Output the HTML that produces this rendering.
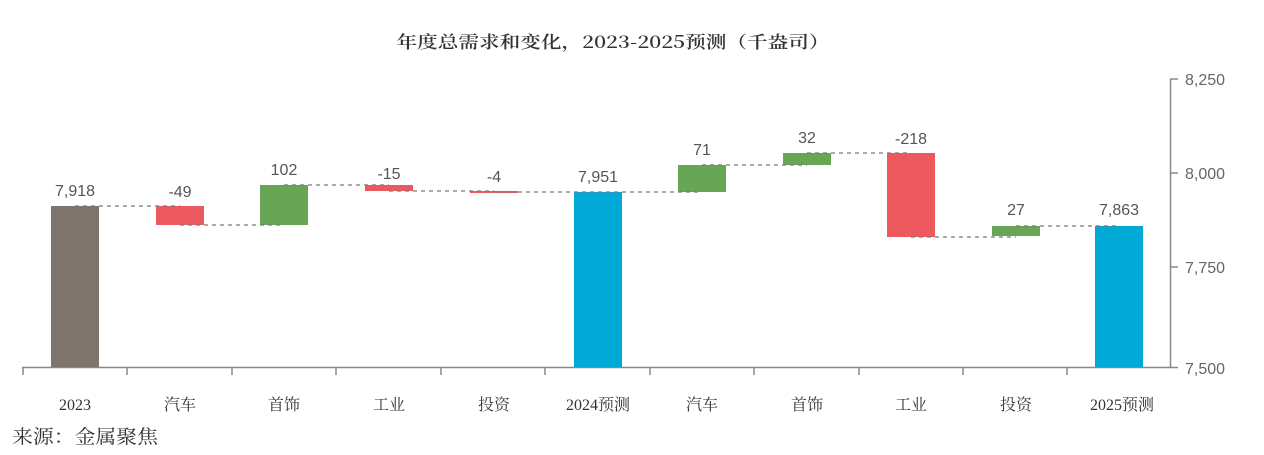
<!DOCTYPE html>
<html><head><meta charset="utf-8"><style>
html,body{margin:0;padding:0;background:#fff;}
svg{display:block;}
</style></head><body>
<svg width="1264" height="455" xmlns="http://www.w3.org/2000/svg">
<text x="613" y="48" text-anchor="middle" font-family="'Noto Serif CJK SC','Liberation Serif',serif" font-weight="600" font-size="17" fill="#333" textLength="433" lengthAdjust="spacingAndGlyphs">年度总需求和变化，2023-2025预测（千盎司）</text>
<g stroke="#888" stroke-width="1.5" fill="none">
<line x1="22" y1="367.5" x2="1171" y2="367.5"/>
<line x1="1170.5" y1="79" x2="1170.5" y2="368"/>
<line x1="1170" y1="79" x2="1178" y2="79"/>
<line x1="1170" y1="173" x2="1178" y2="173"/>
<line x1="1170" y1="267" x2="1178" y2="267"/>
<line x1="1170" y1="367.5" x2="1178" y2="367.5"/>
<line x1="23" y1="368" x2="23" y2="375"/>
<line x1="127" y1="368" x2="127" y2="375"/>
<line x1="232" y1="368" x2="232" y2="375"/>
<line x1="336" y1="368" x2="336" y2="375"/>
<line x1="441" y1="368" x2="441" y2="375"/>
<line x1="545" y1="368" x2="545" y2="375"/>
<line x1="650" y1="368" x2="650" y2="375"/>
<line x1="754" y1="368" x2="754" y2="375"/>
<line x1="859" y1="368" x2="859" y2="375"/>
<line x1="963" y1="368" x2="963" y2="375"/>
<line x1="1067" y1="368" x2="1067" y2="375"/>
</g>
<g font-family="'Liberation Sans',sans-serif" font-size="16" fill="#666">
<text x="1185" y="85">8,250</text>
<text x="1185" y="179">8,000</text>
<text x="1185" y="273">7,750</text>
<text x="1185" y="374">7,500</text>
</g>
<rect x="51" y="206" width="48" height="161" fill="#7f746d"/>
<rect x="156" y="206" width="48" height="19" fill="#ec5a5f"/>
<rect x="260" y="185" width="48" height="40" fill="#68a655"/>
<rect x="365" y="185" width="48" height="6" fill="#ec5a5f"/>
<rect x="470" y="191" width="48" height="2" fill="#ec5a5f"/>
<rect x="574" y="192" width="48" height="175" fill="#00a9d6"/>
<rect x="678" y="165" width="48" height="27" fill="#68a655"/>
<rect x="783" y="153" width="48" height="12" fill="#68a655"/>
<rect x="887" y="153" width="48" height="84" fill="#ec5a5f"/>
<rect x="992" y="226" width="48" height="10" fill="#68a655"/>
<rect x="1095" y="226" width="48" height="141" fill="#00a9d6"/>
<g stroke="#777" stroke-width="1.2" stroke-dasharray="4,4" fill="none">
<line x1="75" y1="206" x2="180" y2="206"/>
<line x1="180" y1="225" x2="284" y2="225"/>
<line x1="284" y1="185" x2="389" y2="185"/>
<line x1="389" y1="191" x2="494" y2="191"/>
<line x1="494" y1="192" x2="598" y2="192"/>
<line x1="598" y1="192" x2="702" y2="192"/>
<line x1="702" y1="165" x2="807" y2="165"/>
<line x1="807" y1="153" x2="911" y2="153"/>
<line x1="911" y1="237" x2="1016" y2="237"/>
<line x1="1016" y1="226" x2="1119" y2="226"/>
</g>
<g font-family="'Liberation Sans',sans-serif" font-size="16" fill="#555" text-anchor="middle">
<text x="75" y="196">7,918</text>
<text x="180" y="197">-49</text>
<text x="284" y="175">102</text>
<text x="389" y="179">-15</text>
<text x="494" y="182">-4</text>
<text x="598" y="182">7,951</text>
<text x="702" y="155">71</text>
<text x="807" y="143">32</text>
<text x="911" y="144">-218</text>
<text x="1016" y="215">27</text>
<text x="1119" y="215">7,863</text>
</g>
<g font-family="'Liberation Serif','Noto Serif CJK SC',serif" font-size="16" fill="#333" text-anchor="middle">
<text x="75" y="410">2023</text>
<text x="180" y="410">汽车</text>
<text x="284" y="410">首饰</text>
<text x="389" y="410">工业</text>
<text x="494" y="410">投资</text>
<text x="598" y="410">2024预测</text>
<text x="702" y="410">汽车</text>
<text x="807" y="410">首饰</text>
<text x="911" y="410">工业</text>
<text x="1016" y="410">投资</text>
<text x="1122" y="410">2025预测</text>
</g>
<text x="12" y="443" font-family="'Noto Serif CJK SC','Liberation Serif',serif" font-size="19" fill="#333" textLength="146" lengthAdjust="spacingAndGlyphs">来源：金属聚焦</text>
</svg>
</body></html>
